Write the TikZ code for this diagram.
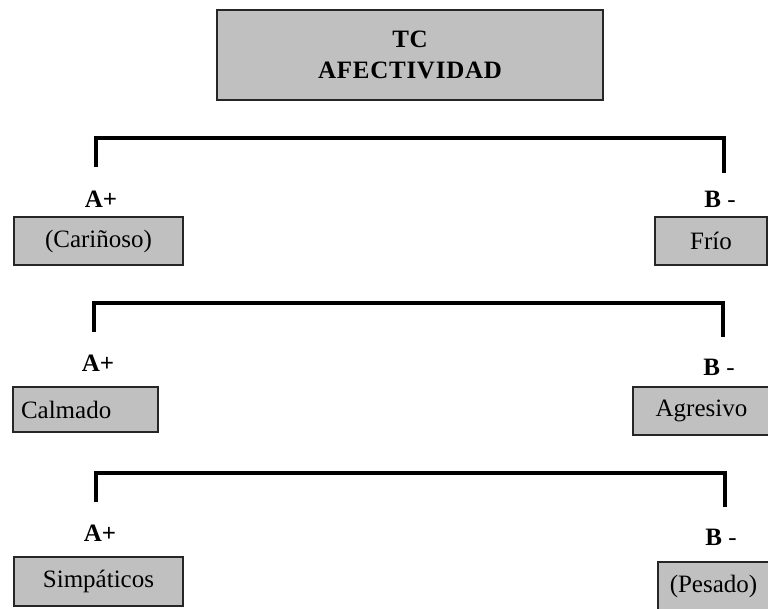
\documentclass[tikz,border=0pt]{standalone}
\usepackage{fontspec}
\setmainfont{Liberation Serif}
\definecolor{boxgray}{RGB}{192,192,192}
\tikzset{
	box/.style={draw=black!85, line width=1.5pt, fill=boxgray, inner sep=0pt, font=\fontsize{25}{29}\selectfont},
	pole/.style={font=\fontsize{25}{29}\selectfont\bfseries},
	bracket/.style={line width=4pt, line cap=butt, line join=miter}
}
\begin{document}
\begin{tikzpicture}[x=1pt,y=-1pt]
	\useasboundingbox (0,0) rectangle (768,608);
	
	%TITLE
	\node[box, minimum width=386pt, minimum height=90pt, align=center,
		font=\fontsize{25}{31}\selectfont\bfseries\addfontfeatures{LetterSpace=3}] (title) at (410,55) {TC\\AFECTIVIDAD};
	
	%ROW 1
	\node[pole] (ap1) at (101,199) {A+};
	\node[pole] (bm1) at (720,199) {B \textmd{-}};
	\node[box, minimum width=169pt, minimum height=48pt] (carinoso) at (98.5,241) {(Cariñoso)};
	\node[box, minimum width=112pt, minimum height=48pt] (frio) at (711,241) {Frío};
	\coordinate (la1) at (96,167);
	\coordinate (ra1) at (724,173);
	\draw[bracket] (la1) -- ++(0,-29) -| (ra1);
	
	%ROW 2
	\node[pole] (ap2) at (98,363) {A+};
	\node[pole] (bm2) at (719,367) {B \textmd{-}};
	\node[box, minimum height=45pt, text width=129pt, inner xsep=8pt, align=left] (calmado) at (85.5,409.5) {Calmado};
	\node[box, minimum width=137pt, minimum height=48pt] (agresivo) at (701.5,411) {Agresivo};
	\coordinate (la2) at (94,332);
	\coordinate (ra2) at (723,337);
	\draw[bracket] (la2) -- ++(0,-29) -| (ra2);
	
	%ROW 3
	\node[pole] (ap3) at (100,533) {A+};
	\node[pole] (bm3) at (721,537) {B \textmd{-}};
	\node[box, minimum width=169pt, minimum height=49pt] (simpaticos) at (98.5,581.5) {Simpáticos};
	\node[box, anchor=north west, minimum height=50pt, text width=110pt, inner xsep=12pt, align=left] (pesado) at (657,561) {(Pesado)};
	\coordinate (la3) at (96,502);
	\coordinate (ra3) at (725,507);
	\draw[bracket] (la3) -- ++(0,-29) -| (ra3);
\end{tikzpicture}
\end{document}
